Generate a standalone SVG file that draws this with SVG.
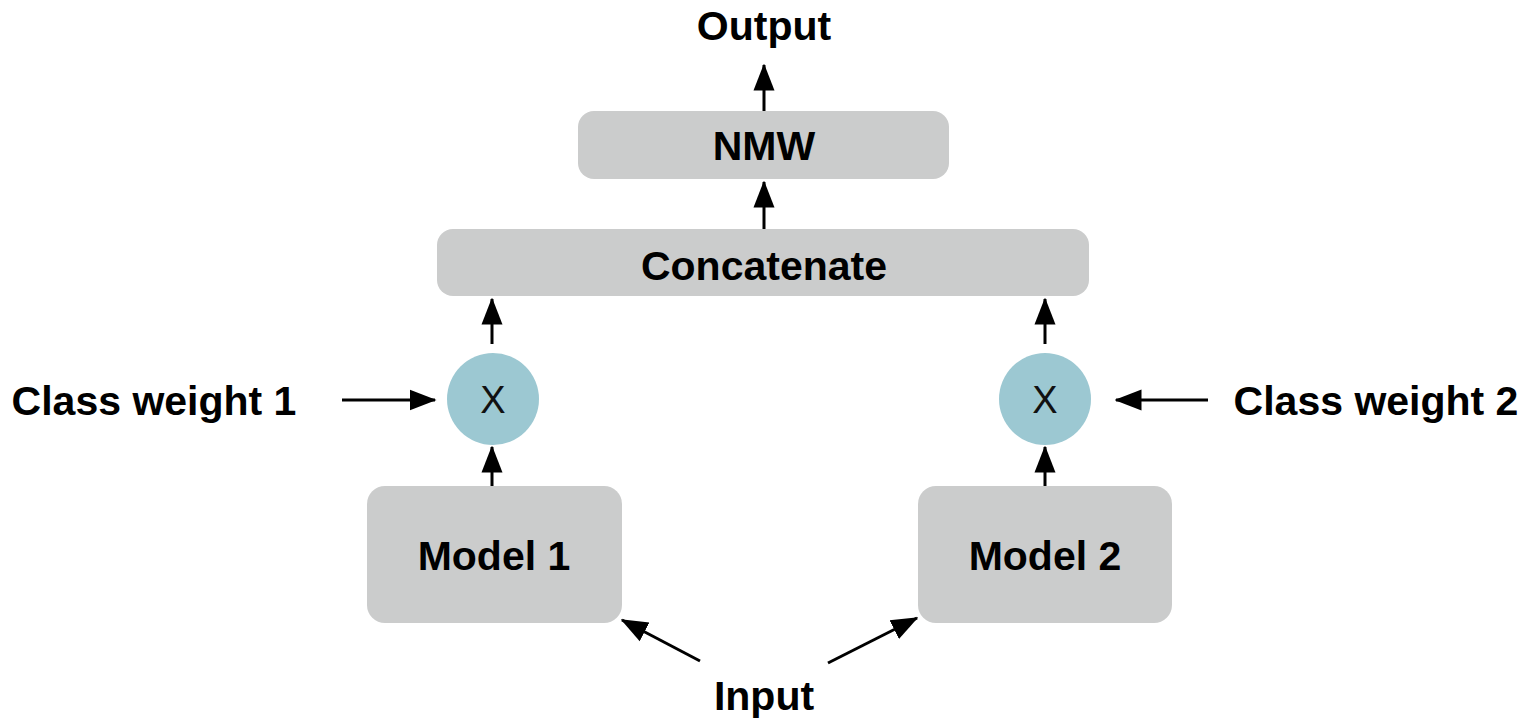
<svg xmlns="http://www.w3.org/2000/svg" width="1528" height="720" viewBox="0 0 1528 720">
<style>
.box{fill:#cbcccc}
.circ{fill:#9cc8d2}
.lbl{font-family:"Liberation Sans",Arial,sans-serif;font-weight:bold;font-size:41px;fill:#000;text-anchor:middle}
.x{font-family:"Liberation Sans",Arial,sans-serif;font-size:38px;fill:#111;text-anchor:middle}
.edge{stroke:#000;stroke-width:3;fill:none;marker-end:url(#ah)}
</style>
<defs>
<marker id="ah" markerWidth="9" markerHeight="8" refX="8.5" refY="3.5" orient="auto" markerUnits="strokeWidth" viewBox="0 0 9 7">
<path d="M0,0 L9,3.5 L0,7 Z" fill="#000"/>
</marker>
</defs>
<rect width="1528" height="720" fill="#fff"/>
<g id="edges">
<line class="edge" x1="764" y1="111" x2="764" y2="65"/>
<line class="edge" x1="764" y1="229" x2="764" y2="182"/>
<line class="edge" x1="492" y1="344" x2="492" y2="299"/>
<line class="edge" x1="1045" y1="344" x2="1045" y2="299"/>
<line class="edge" x1="492" y1="486" x2="492" y2="447"/>
<line class="edge" x1="1045" y1="486" x2="1045" y2="447"/>
<line class="edge" x1="342" y1="400" x2="435" y2="400"/>
<line class="edge" x1="1208" y1="400" x2="1116" y2="400"/>
<line class="edge" x1="700" y1="661" x2="622" y2="620"/>
<line class="edge" x1="828" y1="663" x2="917" y2="618"/>
</g>
<g id="output"><text class="lbl" x="764" y="40">Output</text></g>
<g id="nmw"><rect class="box" x="578" y="111" width="371" height="68" rx="16"/><text class="lbl" x="764" y="160">NMW</text></g>
<g id="concat"><rect class="box" x="437" y="229" width="652" height="67" rx="16"/><text class="lbl" x="764" y="280">Concatenate</text></g>
<g id="mult1"><circle class="circ" cx="493" cy="399" r="46"/><text class="x" x="493" y="413">X</text></g>
<g id="mult2"><circle class="circ" cx="1045" cy="399" r="46"/><text class="x" x="1045" y="413">X</text></g>
<g id="cw1"><text class="lbl" x="154" y="415">Class weight 1</text></g>
<g id="cw2"><text class="lbl" x="1376" y="415">Class weight 2</text></g>
<g id="model1"><rect class="box" x="367" y="486" width="255" height="137" rx="18"/><text class="lbl" x="494" y="570">Model 1</text></g>
<g id="model2"><rect class="box" x="918" y="486" width="254" height="137" rx="18"/><text class="lbl" x="1045" y="570">Model 2</text></g>
<g id="input"><text class="lbl" x="764" y="710">Input</text></g>
</svg>
